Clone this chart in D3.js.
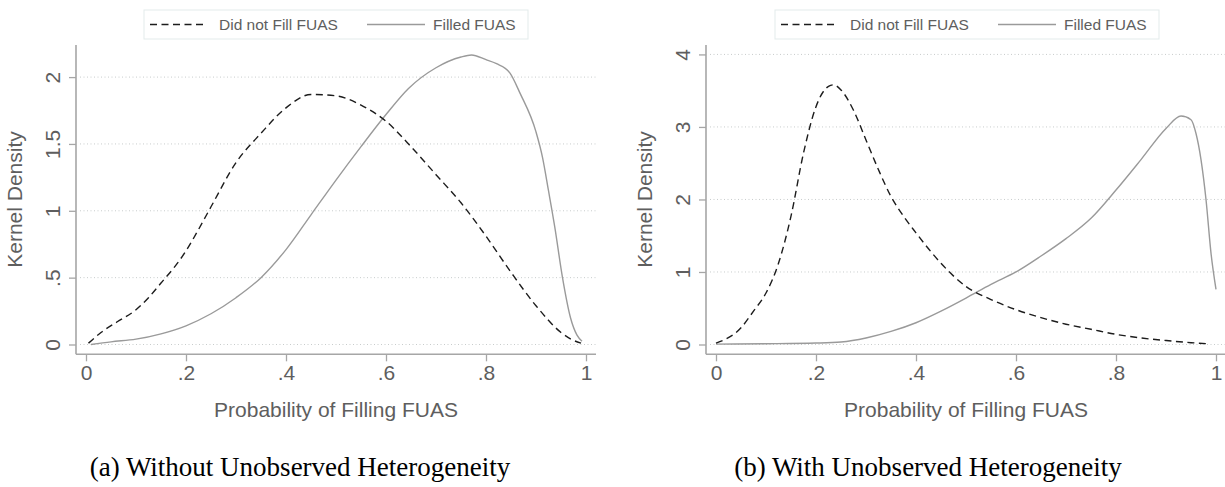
<!DOCTYPE html>
<html>
<head>
<meta charset="utf-8">
<script src="https://cdn.jsdelivr.net/npm/d3@7"></script>
<style>
  html, body { margin: 0; padding: 0; background: #fff; }
  svg { display: block; }
</style>
</head>
<body>
<svg id="chart" width="1225" height="487"></svg>
<script>
// ---------------- DATA ----------------
const seriesNames = ["Did not Fill FUAS", "Filled FUAS"];
const xTickValues = [0, 0.2, 0.4, 0.6, 0.8, 1];
const xTickLabels = ["0", ".2", ".4", ".6", ".8", "1"];
const leftYTickValues = [0, 0.5, 1, 1.5, 2];
const leftYTickLabels = ["0", ".5", "1", "1.5", "2"];
const rightYTickValues = [0, 1, 2, 3, 4];
const rightYTickLabels = ["0", "1", "2", "3", "4"];
const xAxisTitle = "Probability of Filling FUAS";
const yAxisTitle = "Kernel Density";
const captions = ["(a) Without Unobserved Heterogeneity", "(b) With Unobserved Heterogeneity"];

// Panel (a): without unobserved heterogeneity
const leftDidX = [0.005, 0.03, 0.0625, 0.1, 0.125, 0.15, 0.175, 0.2, 0.225, 0.25, 0.3, 0.35, 0.4, 0.45, 0.5, 0.55, 0.6, 0.65, 0.7, 0.75, 0.8, 0.85, 0.9, 0.95, 0.97, 0.99];
const leftDidY = [0.01, 0.09, 0.17, 0.26, 0.35, 0.46, 0.57, 0.7, 0.86, 1.03, 1.36, 1.58, 1.77, 1.87, 1.86, 1.79, 1.67, 1.48, 1.27, 1.06, 0.81, 0.54, 0.29, 0.09, 0.04, 0.01];
const leftFilledX = [0.01, 0.05, 0.1, 0.15, 0.2, 0.25, 0.3, 0.35, 0.4, 0.45, 0.5, 0.55, 0.6, 0.645, 0.7, 0.75, 0.771, 0.8, 0.821, 0.848, 0.868, 0.9, 0.913, 0.925, 0.9375, 0.953, 0.969, 0.982, 0.992];
const leftFilledY = [0.0, 0.02, 0.04, 0.08, 0.14, 0.23, 0.35, 0.5, 0.71, 0.97, 1.23, 1.48, 1.72, 1.915, 2.07, 2.15, 2.165, 2.13, 2.10, 2.03, 1.88, 1.59, 1.4, 1.15, 0.88, 0.5, 0.2, 0.07, 0.025];

// Panel (b): with unobserved heterogeneity
const rightDidX = [0.0, 0.05, 0.075, 0.1, 0.125, 0.15, 0.175, 0.2, 0.225, 0.235, 0.25, 0.275, 0.3, 0.325, 0.35, 0.375, 0.4, 0.425, 0.45, 0.5, 0.55, 0.6, 0.65, 0.7, 0.75, 0.8, 0.85, 0.9, 0.95, 0.985];
const rightDidY = [0.02, 0.23, 0.46, 0.71, 1.12, 1.77, 2.64, 3.28, 3.56, 3.58, 3.51, 3.23, 2.82, 2.41, 2.04, 1.77, 1.54, 1.32, 1.12, 0.8, 0.62, 0.48, 0.37, 0.28, 0.21, 0.14, 0.09, 0.055, 0.025, 0.01];
const rightFilledX = [0.0, 0.1, 0.2, 0.25, 0.3, 0.35, 0.4, 0.45, 0.5, 0.55, 0.6, 0.65, 0.7, 0.75, 0.8, 0.85, 0.9, 0.93, 0.95, 0.96, 0.97, 0.98, 0.99, 1.0];
const rightFilledY = [0.005, 0.01, 0.02, 0.035, 0.09, 0.18, 0.3, 0.46, 0.64, 0.83, 1.0, 1.22, 1.46, 1.74, 2.13, 2.55, 2.98, 3.15, 3.1, 2.91, 2.55, 2.0, 1.26, 0.76];

// ---------------- DRAW ----------------
const svg = d3.select("#chart");
svg.append("rect").attr("width", 1225).attr("height", 487).attr("fill", "#fff");

const TEXT = "#5e5e5e";
const AXIS = "#a6a6a6";
const FONT = "'Liberation Sans', Arial, Helvetica, sans-serif";

const panels = [
  { ox: 0, yMax: 2.24, yTicks: leftYTickValues, yLabels: leftYTickLabels,
    did: leftDidX.map((x, i) => [x, leftDidY[i]]),
    filled: leftFilledX.map((x, i) => [x, leftFilledY[i]]),
    caption: captions[0], capX: 300, axisEnd: 596, gridEnd: 596 },
  { ox: 630, yMax: 4.13, yTicks: rightYTickValues, yLabels: rightYTickLabels,
    did: rightDidX.map((x, i) => [x, rightDidY[i]]),
    filled: rightFilledX.map((x, i) => [x, rightFilledY[i]]),
    caption: captions[1], capX: 928, axisEnd: 1225, gridEnd: 1225 }
];

panels.forEach(p => {
  const g = svg.append("g");
  const x = d3.scaleLinear().domain([0, 1]).range([86 + p.ox, 586 + p.ox]);
  const y = d3.scaleLinear().domain([0, p.yMax]).range([344.5, 45]);
  const axisX = 76 + p.ox;
  const axisY = 354.3;

  // gridlines
  g.append("g").selectAll("line").data(p.yTicks).join("line")
    .attr("x1", axisX + 4).attr("x2", p.gridEnd)
    .attr("y1", d => y(d)).attr("y2", d => y(d))
    .attr("stroke", "#c8cccc").attr("stroke-width", 1)
    .attr("stroke-dasharray", "1,2.5");

  // y axis
  const yAxis = d3.axisLeft(y).tickValues(p.yTicks).tickSize(7).tickPadding(0)
    .tickFormat((d, i) => p.yLabels[i]);
  const ya = g.append("g").attr("transform", `translate(${axisX},0)`).call(yAxis);
  ya.select(".domain").attr("d", `M0,45V${axisY}`).attr("stroke", AXIS).attr("stroke-width", 1.6);
  ya.selectAll(".tick line").attr("stroke", AXIS).attr("stroke-width", 1.3);
  ya.selectAll(".tick text")
    .attr("x", 0).attr("y", null)
    .attr("transform", "translate(-16,0) rotate(-90)")
    .attr("text-anchor", "middle").attr("dy", 0)
    .attr("fill", TEXT).attr("font-family", FONT).attr("font-size", 21);

  // x axis
  const xAxis = d3.axisBottom(x).tickValues(xTickValues).tickSize(7).tickPadding(0)
    .tickFormat((d, i) => xTickLabels[i]);
  const xa = g.append("g").attr("transform", `translate(0,${axisY})`).call(xAxis);
  xa.select(".domain").attr("d", `M${axisX},0H${p.axisEnd}`).attr("stroke", AXIS).attr("stroke-width", 1.6);
  xa.selectAll(".tick line").attr("stroke", AXIS).attr("stroke-width", 1.3);
  xa.selectAll(".tick text")
    .attr("y", 26).attr("dy", 0)
    .attr("fill", TEXT).attr("font-family", FONT).attr("font-size", 21);

  // axis titles
  g.append("text").attr("transform", `translate(${22 + p.ox},${199.5}) rotate(-90)`)
    .attr("text-anchor", "middle").attr("fill", TEXT)
    .attr("font-family", FONT).attr("font-size", 21).text(yAxisTitle);
  g.append("text").attr("x", 336 + p.ox).attr("y", 417)
    .attr("text-anchor", "middle").attr("fill", TEXT)
    .attr("font-family", FONT).attr("font-size", 21).text(xAxisTitle);

  // lines
  const line = d3.line().x(d => x(d[0])).y(d => y(d[1])).curve(d3.curveMonotoneX);
  g.append("path").datum(p.filled).attr("d", line)
    .attr("fill", "none").attr("stroke", "#9a9a9a").attr("stroke-width", 1.4);
  g.append("path").datum(p.did).attr("d", line)
    .attr("fill", "none").attr("stroke", "#1c1c1c").attr("stroke-width", 1.4)
    .attr("stroke-dasharray", "7,4.5");

  // legend
  const lx = 144 + p.ox + (p.ox ? 1 : 0);
  const lg = g.append("g");
  lg.append("rect").attr("x", lx).attr("y", 10).attr("width", 384).attr("height", 29)
    .attr("fill", "#fff").attr("stroke", "#e3ebeb").attr("stroke-width", 1);
  lg.append("line").attr("x1", lx + 6).attr("x2", lx + 63).attr("y1", 24.5).attr("y2", 24.5)
    .attr("stroke", "#1c1c1c").attr("stroke-width", 1.4).attr("stroke-dasharray", "7,4.5");
  lg.append("text").attr("x", lx + 75).attr("y", 30).attr("fill", TEXT)
    .attr("font-family", FONT).attr("font-size", 15.5).text(seriesNames[0]);
  lg.append("line").attr("x1", lx + 223).attr("x2", lx + 281).attr("y1", 24.5).attr("y2", 24.5)
    .attr("stroke", "#9a9a9a").attr("stroke-width", 1.4);
  lg.append("text").attr("x", lx + 289).attr("y", 30).attr("fill", TEXT)
    .attr("font-family", FONT).attr("font-size", 15.5).text(seriesNames[1]);

  // caption
  g.append("text").attr("x", p.capX).attr("y", 476).attr("text-anchor", "middle")
    .attr("fill", "#000").attr("font-family", "'Liberation Serif', 'Times New Roman', serif")
    .attr("font-size", 27).text(p.caption);
});
</script>
</body>
</html>
